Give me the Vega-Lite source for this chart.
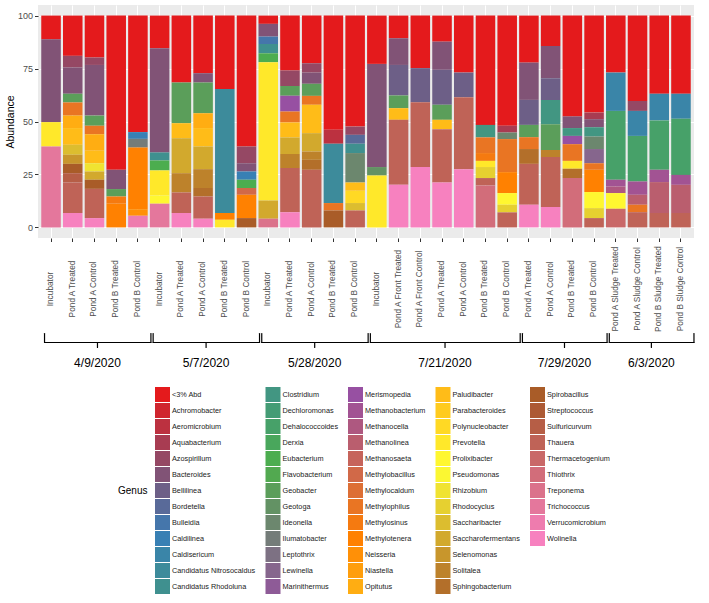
{
  "$schema": "https://vega.github.io/schema/vega-lite/v6.json",
  "background": "white",
  "padding": {"left": 5, "top": 5, "right": 5, "bottom": 5},
  "config": {
    "font": "Liberation Sans",
    "view": {"stroke": null},
    "concat": {"spacing": 0}
  },
  "datasets": {
    "abundance": [
      {"bar": "4/9/2020|Incubator", "genus": "<3% Abd", "value": 11.2},
      {"bar": "4/9/2020|Incubator", "genus": "Bacteroides", "value": 39.1},
      {"bar": "4/9/2020|Incubator", "genus": "Prevotella", "value": 11.5},
      {"bar": "4/9/2020|Incubator", "genus": "Trichococcus", "value": 38.2},

      {"bar": "4/9/2020|Pond A Treated", "genus": "<3% Abd", "value": 19.0},
      {"bar": "4/9/2020|Pond A Treated", "genus": "Azospirillum", "value": 5.5},
      {"bar": "4/9/2020|Pond A Treated", "genus": "Bacteroides", "value": 12.4},
      {"bar": "4/9/2020|Pond A Treated", "genus": "Geobacter", "value": 4.1},
      {"bar": "4/9/2020|Pond A Treated", "genus": "Methylophilus", "value": 6.2},
      {"bar": "4/9/2020|Pond A Treated", "genus": "Opitutus", "value": 5.9},
      {"bar": "4/9/2020|Pond A Treated", "genus": "Paludibacter", "value": 7.9},
      {"bar": "4/9/2020|Pond A Treated", "genus": "Saccharibacter", "value": 4.7},
      {"bar": "4/9/2020|Pond A Treated", "genus": "Selenomonas", "value": 4.3},
      {"bar": "4/9/2020|Pond A Treated", "genus": "Spirobacillus", "value": 4.4},
      {"bar": "4/9/2020|Pond A Treated", "genus": "Sulfuricurvum", "value": 4.4},
      {"bar": "4/9/2020|Pond A Treated", "genus": "Thauera", "value": 14.4},
      {"bar": "4/9/2020|Pond A Treated", "genus": "Wolinella", "value": 6.8},

      {"bar": "4/9/2020|Pond A Control", "genus": "<3% Abd", "value": 19.8},
      {"bar": "4/9/2020|Pond A Control", "genus": "Azospirillum", "value": 3.5},
      {"bar": "4/9/2020|Pond A Control", "genus": "Bacteroides", "value": 23.9},
      {"bar": "4/9/2020|Pond A Control", "genus": "Geobacter", "value": 4.8},
      {"bar": "4/9/2020|Pond A Control", "genus": "Methylophilus", "value": 4.0},
      {"bar": "4/9/2020|Pond A Control", "genus": "Opitutus", "value": 7.8},
      {"bar": "4/9/2020|Pond A Control", "genus": "Paludibacter", "value": 5.9},
      {"bar": "4/9/2020|Pond A Control", "genus": "Rhizobium", "value": 3.9},
      {"bar": "4/9/2020|Pond A Control", "genus": "Saccharofermentans", "value": 3.9},
      {"bar": "4/9/2020|Pond A Control", "genus": "Spirobacillus", "value": 4.3},
      {"bar": "4/9/2020|Pond A Control", "genus": "Thauera", "value": 13.8},
      {"bar": "4/9/2020|Pond A Control", "genus": "Wolinella", "value": 4.4},

      {"bar": "4/9/2020|Pond B Treated", "genus": "<3% Abd", "value": 72.8},
      {"bar": "4/9/2020|Pond B Treated", "genus": "Bacteroides", "value": 9.1},
      {"bar": "4/9/2020|Pond B Treated", "genus": "Geobacter", "value": 3.5},
      {"bar": "4/9/2020|Pond B Treated", "genus": "Methylosinus", "value": 3.4},
      {"bar": "4/9/2020|Pond B Treated", "genus": "Methylotenera", "value": 11.2},

      {"bar": "4/9/2020|Pond B Control", "genus": "<3% Abd", "value": 55.0},
      {"bar": "4/9/2020|Pond B Control", "genus": "Caldilinea", "value": 3.2},
      {"bar": "4/9/2020|Pond B Control", "genus": "Ilumatobacter", "value": 4.1},
      {"bar": "4/9/2020|Pond B Control", "genus": "Methylotenera", "value": 29.1},
      {"bar": "4/9/2020|Pond B Control", "genus": "Neisseria", "value": 3.1},
      {"bar": "4/9/2020|Pond B Control", "genus": "Verrucomicrobium", "value": 5.5},

      {"bar": "5/7/2020|Incubator", "genus": "<3% Abd", "value": 15.4},
      {"bar": "5/7/2020|Incubator", "genus": "Bacteroides", "value": 49.2},
      {"bar": "5/7/2020|Incubator", "genus": "Candidatus Rhodoluna", "value": 3.8},
      {"bar": "5/7/2020|Incubator", "genus": "Eubacterium", "value": 4.7},
      {"bar": "5/7/2020|Incubator", "genus": "Prevotella", "value": 11.8},
      {"bar": "5/7/2020|Incubator", "genus": "Prolixibacter", "value": 3.9},
      {"bar": "5/7/2020|Incubator", "genus": "Trichococcus", "value": 11.2},

      {"bar": "5/7/2020|Pond A Treated", "genus": "<3% Abd", "value": 31.6},
      {"bar": "5/7/2020|Pond A Treated", "genus": "Geobacter", "value": 19.2},
      {"bar": "5/7/2020|Pond A Treated", "genus": "Paludibacter", "value": 7.1},
      {"bar": "5/7/2020|Pond A Treated", "genus": "Saccharofermentans", "value": 16.5},
      {"bar": "5/7/2020|Pond A Treated", "genus": "Solitalea", "value": 9.1},
      {"bar": "5/7/2020|Pond A Treated", "genus": "Thauera", "value": 9.7},
      {"bar": "5/7/2020|Pond A Treated", "genus": "Wolinella", "value": 6.8},

      {"bar": "5/7/2020|Pond A Control", "genus": "<3% Abd", "value": 27.2},
      {"bar": "5/7/2020|Pond A Control", "genus": "Bacteroides", "value": 4.4},
      {"bar": "5/7/2020|Pond A Control", "genus": "Geobacter", "value": 14.5},
      {"bar": "5/7/2020|Pond A Control", "genus": "Opitutus", "value": 7.0},
      {"bar": "5/7/2020|Pond A Control", "genus": "Paludibacter", "value": 8.7},
      {"bar": "5/7/2020|Pond A Control", "genus": "Saccharofermentans", "value": 10.7},
      {"bar": "5/7/2020|Pond A Control", "genus": "Solitalea", "value": 8.9},
      {"bar": "5/7/2020|Pond A Control", "genus": "Sphingobacterium", "value": 4.0},
      {"bar": "5/7/2020|Pond A Control", "genus": "Thauera", "value": 10.5},
      {"bar": "5/7/2020|Pond A Control", "genus": "Wolinella", "value": 4.1},

      {"bar": "5/7/2020|Pond B Treated", "genus": "<3% Abd", "value": 34.7},
      {"bar": "5/7/2020|Pond B Treated", "genus": "Candidatus Nitrosocaldus", "value": 58.5},
      {"bar": "5/7/2020|Pond B Treated", "genus": "Methylotenera", "value": 3.2},
      {"bar": "5/7/2020|Pond B Treated", "genus": "Prevotella", "value": 3.6},

      {"bar": "5/7/2020|Pond B Control", "genus": "<3% Abd", "value": 61.8},
      {"bar": "5/7/2020|Pond B Control", "genus": "Azospirillum", "value": 7.9},
      {"bar": "5/7/2020|Pond B Control", "genus": "Bacteroides", "value": 3.9},
      {"bar": "5/7/2020|Pond B Control", "genus": "Caldilinea", "value": 3.9},
      {"bar": "5/7/2020|Pond B Control", "genus": "Eubacterium", "value": 3.9},
      {"bar": "5/7/2020|Pond B Control", "genus": "Methylobacillus", "value": 3.2},
      {"bar": "5/7/2020|Pond B Control", "genus": "Methylotenera", "value": 11.0},
      {"bar": "5/7/2020|Pond B Control", "genus": "Spirobacillus", "value": 4.4},

      {"bar": "5/28/2020|Incubator", "genus": "<3% Abd", "value": 3.9},
      {"bar": "5/28/2020|Incubator", "genus": "Bacteroides", "value": 6.0},
      {"bar": "5/28/2020|Incubator", "genus": "Bulleidia", "value": 3.5},
      {"bar": "5/28/2020|Incubator", "genus": "Candidatus Rhodoluna", "value": 4.4},
      {"bar": "5/28/2020|Incubator", "genus": "Eubacterium", "value": 4.2},
      {"bar": "5/28/2020|Incubator", "genus": "Prevotella", "value": 65.3},
      {"bar": "5/28/2020|Incubator", "genus": "Saccharofermentans", "value": 8.6},
      {"bar": "5/28/2020|Incubator", "genus": "Treponema", "value": 4.1},

      {"bar": "5/28/2020|Pond A Treated", "genus": "<3% Abd", "value": 25.9},
      {"bar": "5/28/2020|Pond A Treated", "genus": "Azospirillum", "value": 7.3},
      {"bar": "5/28/2020|Pond A Treated", "genus": "Geobacter", "value": 4.7},
      {"bar": "5/28/2020|Pond A Treated", "genus": "Merismopedia", "value": 7.4},
      {"bar": "5/28/2020|Pond A Treated", "genus": "Methylophilus", "value": 5.2},
      {"bar": "5/28/2020|Pond A Treated", "genus": "Paludibacter", "value": 7.0},
      {"bar": "5/28/2020|Pond A Treated", "genus": "Saccharofermentans", "value": 7.8},
      {"bar": "5/28/2020|Pond A Treated", "genus": "Solitalea", "value": 6.7},
      {"bar": "5/28/2020|Pond A Treated", "genus": "Thauera", "value": 20.8},
      {"bar": "5/28/2020|Pond A Treated", "genus": "Wolinella", "value": 7.2},

      {"bar": "5/28/2020|Pond A Control", "genus": "<3% Abd", "value": 22.5},
      {"bar": "5/28/2020|Pond A Control", "genus": "Azospirillum", "value": 4.4},
      {"bar": "5/28/2020|Pond A Control", "genus": "Bacteroides", "value": 5.3},
      {"bar": "5/28/2020|Pond A Control", "genus": "Geobacter", "value": 5.7},
      {"bar": "5/28/2020|Pond A Control", "genus": "Methylophilus", "value": 4.2},
      {"bar": "5/28/2020|Pond A Control", "genus": "Paludibacter", "value": 13.4},
      {"bar": "5/28/2020|Pond A Control", "genus": "Saccharofermentans", "value": 8.7},
      {"bar": "5/28/2020|Pond A Control", "genus": "Solitalea", "value": 3.9},
      {"bar": "5/28/2020|Pond A Control", "genus": "Sphingobacterium", "value": 4.7},
      {"bar": "5/28/2020|Pond A Control", "genus": "Thauera", "value": 27.2},

      {"bar": "5/28/2020|Pond B Treated", "genus": "<3% Abd", "value": 53.9},
      {"bar": "5/28/2020|Pond B Treated", "genus": "Aeromicrobium", "value": 6.6},
      {"bar": "5/28/2020|Pond B Treated", "genus": "Candidatus Nitrosocaldus", "value": 28.0},
      {"bar": "5/28/2020|Pond B Treated", "genus": "Methylophilus", "value": 3.5},
      {"bar": "5/28/2020|Pond B Treated", "genus": "Spirobacillus", "value": 8.0},

      {"bar": "5/28/2020|Pond B Control", "genus": "<3% Abd", "value": 52.4},
      {"bar": "5/28/2020|Pond B Control", "genus": "Azospirillum", "value": 3.9},
      {"bar": "5/28/2020|Pond B Control", "genus": "Bordetella", "value": 4.2},
      {"bar": "5/28/2020|Pond B Control", "genus": "Candidatus Rhodoluna", "value": 4.4},
      {"bar": "5/28/2020|Pond B Control", "genus": "Ideonella", "value": 13.9},
      {"bar": "5/28/2020|Pond B Control", "genus": "Paludibacter", "value": 3.9},
      {"bar": "5/28/2020|Pond B Control", "genus": "Polynucleobacter", "value": 5.8},
      {"bar": "5/28/2020|Pond B Control", "genus": "Saccharibacter", "value": 3.5},
      {"bar": "5/28/2020|Pond B Control", "genus": "Thauera", "value": 8.0},

      {"bar": "7/21/2020|Incubator", "genus": "<3% Abd", "value": 22.8},
      {"bar": "7/21/2020|Incubator", "genus": "Bacteroides", "value": 48.7},
      {"bar": "7/21/2020|Incubator", "genus": "Geotoga", "value": 4.0},
      {"bar": "7/21/2020|Incubator", "genus": "Prevotella", "value": 24.5},

      {"bar": "7/21/2020|Pond A Front Treated", "genus": "<3% Abd", "value": 10.7},
      {"bar": "7/21/2020|Pond A Front Treated", "genus": "Bacteroides", "value": 12.6},
      {"bar": "7/21/2020|Pond A Front Treated", "genus": "Bellilinea", "value": 14.4},
      {"bar": "7/21/2020|Pond A Front Treated", "genus": "Geobacter", "value": 6.0},
      {"bar": "7/21/2020|Pond A Front Treated", "genus": "Paludibacter", "value": 5.5},
      {"bar": "7/21/2020|Pond A Front Treated", "genus": "Thauera", "value": 30.7},
      {"bar": "7/21/2020|Pond A Front Treated", "genus": "Wolinella", "value": 20.1},

      {"bar": "7/21/2020|Pond A Front Control", "genus": "<3% Abd", "value": 24.8},
      {"bar": "7/21/2020|Pond A Front Control", "genus": "Bellilinea", "value": 16.1},
      {"bar": "7/21/2020|Pond A Front Control", "genus": "Thauera", "value": 30.6},
      {"bar": "7/21/2020|Pond A Front Control", "genus": "Wolinella", "value": 28.5},

      {"bar": "7/21/2020|Pond A Treated", "genus": "<3% Abd", "value": 12.3},
      {"bar": "7/21/2020|Pond A Treated", "genus": "Bacteroides", "value": 13.3},
      {"bar": "7/21/2020|Pond A Treated", "genus": "Bellilinea", "value": 16.5},
      {"bar": "7/21/2020|Pond A Treated", "genus": "Geobacter", "value": 7.1},
      {"bar": "7/21/2020|Pond A Treated", "genus": "Paludibacter", "value": 4.4},
      {"bar": "7/21/2020|Pond A Treated", "genus": "Thauera", "value": 25.2},
      {"bar": "7/21/2020|Pond A Treated", "genus": "Wolinella", "value": 21.2},

      {"bar": "7/21/2020|Pond A Control", "genus": "<3% Abd", "value": 26.9},
      {"bar": "7/21/2020|Pond A Control", "genus": "Bellilinea", "value": 11.6},
      {"bar": "7/21/2020|Pond A Control", "genus": "Thauera", "value": 34.0},
      {"bar": "7/21/2020|Pond A Control", "genus": "Wolinella", "value": 27.5},

      {"bar": "7/21/2020|Pond B Treated", "genus": "<3% Abd", "value": 51.6},
      {"bar": "7/21/2020|Pond B Treated", "genus": "Clostridium", "value": 5.9},
      {"bar": "7/21/2020|Pond B Treated", "genus": "Methylophilus", "value": 7.4},
      {"bar": "7/21/2020|Pond B Treated", "genus": "Methylosinus", "value": 3.7},
      {"bar": "7/21/2020|Pond B Treated", "genus": "Prevotella", "value": 2.9},
      {"bar": "7/21/2020|Pond B Treated", "genus": "Rhodocyclus", "value": 5.2},
      {"bar": "7/21/2020|Pond B Treated", "genus": "Thauera", "value": 3.5},
      {"bar": "7/21/2020|Pond B Treated", "genus": "Thiothrix", "value": 19.8},

      {"bar": "7/21/2020|Pond B Control", "genus": "<3% Abd", "value": 52.0},
      {"bar": "7/21/2020|Pond B Control", "genus": "Aquabacterium", "value": 3.2},
      {"bar": "7/21/2020|Pond B Control", "genus": "Ideonella", "value": 3.1},
      {"bar": "7/21/2020|Pond B Control", "genus": "Methylophilus", "value": 15.6},
      {"bar": "7/21/2020|Pond B Control", "genus": "Methylotenera", "value": 9.9},
      {"bar": "7/21/2020|Pond B Control", "genus": "Prolixibacter", "value": 5.5},
      {"bar": "7/21/2020|Pond B Control", "genus": "Rhodocyclus", "value": 3.6},
      {"bar": "7/21/2020|Pond B Control", "genus": "Thauera", "value": 7.1},

      {"bar": "7/29/2020|Pond A Treated", "genus": "<3% Abd", "value": 22.2},
      {"bar": "7/29/2020|Pond A Treated", "genus": "Bacteroides", "value": 17.6},
      {"bar": "7/29/2020|Pond A Treated", "genus": "Bellilinea", "value": 11.8},
      {"bar": "7/29/2020|Pond A Treated", "genus": "Geobacter", "value": 5.8},
      {"bar": "7/29/2020|Pond A Treated", "genus": "Methylophilus", "value": 5.6},
      {"bar": "7/29/2020|Pond A Treated", "genus": "Sphingobacterium", "value": 7.0},
      {"bar": "7/29/2020|Pond A Treated", "genus": "Thauera", "value": 19.3},
      {"bar": "7/29/2020|Pond A Treated", "genus": "Wolinella", "value": 10.7},

      {"bar": "7/29/2020|Pond A Control", "genus": "<3% Abd", "value": 14.3},
      {"bar": "7/29/2020|Pond A Control", "genus": "Bacteroides", "value": 15.3},
      {"bar": "7/29/2020|Pond A Control", "genus": "Bellilinea", "value": 10.2},
      {"bar": "7/29/2020|Pond A Control", "genus": "Clostridium", "value": 11.5},
      {"bar": "7/29/2020|Pond A Control", "genus": "Geobacter", "value": 12.1},
      {"bar": "7/29/2020|Pond A Control", "genus": "Solitalea", "value": 3.4},
      {"bar": "7/29/2020|Pond A Control", "genus": "Thauera", "value": 23.6},
      {"bar": "7/29/2020|Pond A Control", "genus": "Wolinella", "value": 9.6},

      {"bar": "7/29/2020|Pond B Treated", "genus": "<3% Abd", "value": 47.6},
      {"bar": "7/29/2020|Pond B Treated", "genus": "Bacteroides", "value": 5.5},
      {"bar": "7/29/2020|Pond B Treated", "genus": "Clostridium", "value": 3.7},
      {"bar": "7/29/2020|Pond B Treated", "genus": "Merismopedia", "value": 3.9},
      {"bar": "7/29/2020|Pond B Treated", "genus": "Methylophilus", "value": 7.9},
      {"bar": "7/29/2020|Pond B Treated", "genus": "Prevotella", "value": 3.7},
      {"bar": "7/29/2020|Pond B Treated", "genus": "Sphingobacterium", "value": 4.4},
      {"bar": "7/29/2020|Pond B Treated", "genus": "Thiothrix", "value": 23.3},

      {"bar": "7/29/2020|Pond B Control", "genus": "<3% Abd", "value": 45.8},
      {"bar": "7/29/2020|Pond B Control", "genus": "Aquabacterium", "value": 3.1},
      {"bar": "7/29/2020|Pond B Control", "genus": "Bacteroides", "value": 3.8},
      {"bar": "7/29/2020|Pond B Control", "genus": "Clostridium", "value": 4.4},
      {"bar": "7/29/2020|Pond B Control", "genus": "Ideonella", "value": 5.9},
      {"bar": "7/29/2020|Pond B Control", "genus": "Lewinella", "value": 6.7},
      {"bar": "7/29/2020|Pond B Control", "genus": "Methylophilus", "value": 3.1},
      {"bar": "7/29/2020|Pond B Control", "genus": "Methylotenera", "value": 10.5},
      {"bar": "7/29/2020|Pond B Control", "genus": "Prolixibacter", "value": 7.6},
      {"bar": "7/29/2020|Pond B Control", "genus": "Rhodocyclus", "value": 4.7},
      {"bar": "7/29/2020|Pond B Control", "genus": "Thauera", "value": 4.4},

      {"bar": "6/3/2020|Pond A Sludge Treated", "genus": "<3% Abd", "value": 26.9},
      {"bar": "6/3/2020|Pond A Sludge Treated", "genus": "Caldisericum", "value": 18.1},
      {"bar": "6/3/2020|Pond A Sludge Treated", "genus": "Dehalococcoides", "value": 32.5},
      {"bar": "6/3/2020|Pond A Sludge Treated", "genus": "Methanobacterium", "value": 3.2},
      {"bar": "6/3/2020|Pond A Sludge Treated", "genus": "Methanocella", "value": 3.1},
      {"bar": "6/3/2020|Pond A Sludge Treated", "genus": "Prolixibacter", "value": 7.4},
      {"bar": "6/3/2020|Pond A Sludge Treated", "genus": "Thermacetogenium", "value": 8.8},

      {"bar": "6/3/2020|Pond A Sludge Control", "genus": "<3% Abd", "value": 40.3},
      {"bar": "6/3/2020|Pond A Sludge Control", "genus": "Azospirillum", "value": 4.7},
      {"bar": "6/3/2020|Pond A Sludge Control", "genus": "Caldisericum", "value": 11.8},
      {"bar": "6/3/2020|Pond A Sludge Control", "genus": "Dehalococcoides", "value": 21.5},
      {"bar": "6/3/2020|Pond A Sludge Control", "genus": "Methanobacterium", "value": 6.3},
      {"bar": "6/3/2020|Pond A Sludge Control", "genus": "Methanolinea", "value": 4.7},
      {"bar": "6/3/2020|Pond A Sludge Control", "genus": "Methylophilus", "value": 3.5},
      {"bar": "6/3/2020|Pond A Sludge Control", "genus": "Thauera", "value": 7.2},

      {"bar": "6/3/2020|Pond B Sludge Treated", "genus": "<3% Abd", "value": 36.9},
      {"bar": "6/3/2020|Pond B Sludge Treated", "genus": "Caldisericum", "value": 12.6},
      {"bar": "6/3/2020|Pond B Sludge Treated", "genus": "Dehalococcoides", "value": 23.3},
      {"bar": "6/3/2020|Pond B Sludge Treated", "genus": "Methanobacterium", "value": 5.8},
      {"bar": "6/3/2020|Pond B Sludge Treated", "genus": "Methanolinea", "value": 14.6},
      {"bar": "6/3/2020|Pond B Sludge Treated", "genus": "Thauera", "value": 6.8},

      {"bar": "6/3/2020|Pond B Sludge Control", "genus": "<3% Abd", "value": 36.9},
      {"bar": "6/3/2020|Pond B Sludge Control", "genus": "Caldisericum", "value": 11.8},
      {"bar": "6/3/2020|Pond B Sludge Control", "genus": "Dehalococcoides", "value": 26.5},
      {"bar": "6/3/2020|Pond B Sludge Control", "genus": "Methanobacterium", "value": 4.7},
      {"bar": "6/3/2020|Pond B Sludge Control", "genus": "Methanolinea", "value": 13.3},
      {"bar": "6/3/2020|Pond B Sludge Control", "genus": "Thauera", "value": 6.8}
    ],
    "sampling_dates": [
      {"date": "4/9/2020", "first": 0, "last": 4, "mid": 2},
      {"date": "5/7/2020", "first": 5, "last": 9, "mid": 7},
      {"date": "5/28/2020", "first": 10, "last": 14, "mid": 12},
      {"date": "7/21/2020", "first": 15, "last": 21, "mid": 18},
      {"date": "7/29/2020", "first": 22, "last": 25, "mid": 23.5},
      {"date": "6/3/2020", "first": 26, "last": 29, "mid": 27.5}
    ]
  },
  "vconcat": [
    {
      "width": 656,
      "height": 233,
      "view": {"fill": "#EBEBEB", "stroke": null},
      "data": {"name": "abundance"},
      "mark": {"type": "bar"},
      "encoding": {
        "x": {
          "field": "bar",
          "type": "nominal",
          "sort": null,
          "scale": {"paddingInner": 0.1, "paddingOuter": 0.15},
          "axis": {
            "title": null,
            "labelExpr": "split(datum.label, '|')[1]",
            "labelAngle": 270,
            "labelAlign": "center",
            "labelBaseline": "middle",
            "labelPadding": 47,
            "labelFontSize": 8.3,
            "labelColor": "#4D4D4D",
            "labelOverlap": false,
            "labelLimit": 0,
            "domain": false,
            "ticks": true,
            "tickSize": 3.5,
            "tickColor": "#333333",
            "grid": true,
            "gridColor": "#FFFFFF",
            "gridWidth": 1
          }
        },
        "y": {
          "field": "value",
          "type": "quantitative",
          "stack": "zero",
          "scale": {"domain": [-5, 105], "nice": false, "zero": false},
          "axis": {
            "title": "Abundance",
            "titleFontSize": 10.5,
            "titleFontWeight": "normal",
            "titleColor": "#000000",
            "titlePadding": 2,
            "values": [0, 25, 50, 75, 100],
            "labelFontSize": 9,
            "labelColor": "#4D4D4D",
            "labelPadding": 2,
            "domain": false,
            "tickSize": 3.5,
            "tickColor": "#333333",
            "gridColor": "#FFFFFF",
            "gridWidth": 1
          }
        },
        "color": {
          "field": "genus",
          "type": "nominal",
          "title": "Genus",
          "scale": {
            "domain": [
              "<3% Abd", "Achromobacter", "Aeromicrobium", "Aquabacterium", "Azospirillum",
              "Bacteroides", "Bellilinea", "Bordetella", "Bulleidia", "Caldilinea",
              "Caldisericum", "Candidatus Nitrosocaldus", "Candidatus Rhodoluna",
              "Clostridium", "Dechloromonas", "Dehalococcoides", "Derxia", "Eubacterium",
              "Flavobacterium", "Geobacter", "Geotoga", "Ideonella", "Ilumatobacter",
              "Leptothrix", "Lewinella", "Marinithermus",
              "Merismopedia", "Methanobacterium", "Methanocella", "Methanolinea", "Methanosaeta",
              "Methylobacillus", "Methylocaldum", "Methylophilus", "Methylosinus", "Methylotenera",
              "Neisseria", "Niastella", "Opitutus",
              "Paludibacter", "Parabacteroides", "Polynucleobacter", "Prevotella", "Prolixibacter",
              "Pseudomonas", "Rhizobium", "Rhodocyclus", "Saccharibacter", "Saccharofermentans",
              "Selenomonas", "Solitalea", "Sphingobacterium",
              "Spirobacillus", "Streptococcus", "Sulfuricurvum", "Thauera", "Thermacetogenium",
              "Thiothrix", "Treponema", "Trichococcus", "Verrucomicrobium", "Wolinella",
              " ", "  ", "   "
            ],
            "range": [
              "#E41A1C", "#D0252E", "#BC3140", "#A83C52", "#954864",
              "#815376", "#6D5F87", "#596A99", "#4576AB", "#3880B4",
              "#3A85A8", "#3D8B9B", "#3F908F",
              "#429682", "#449C75", "#47A169", "#49A75C", "#4CAD4F",
              "#52A950", "#5B9E5A", "#639264", "#6C876E", "#747C79",
              "#7D7183", "#86668D", "#8E5B97",
              "#9750A2", "#A25393", "#AE5880", "#BA5E6E", "#C6645B",
              "#D16948", "#DD6F35", "#E97523", "#F57A10", "#FF8101",
              "#FF9007", "#FF9E0D", "#FFAD12",
              "#FFBC18", "#FFCB1E", "#FFD924", "#FFE82A", "#FFF730",
              "#FBF732", "#F0E331", "#E6D030", "#DCBD2F", "#D2A92D",
              "#C8962C", "#BD822B", "#B36F2A",
              "#A95C28", "#AD5A34", "#B65E46", "#BF6357", "#C96868",
              "#D26D7A", "#DB728B", "#E4779C", "#EE7CAE", "#F781BF",
              "#FFFFFF", "#FFFFFF", "#FFFFFF"
            ]
          },
          "legend": {
            "orient": "none",
            "legendX": 80,
            "legendY": 382,
            "columns": 5,
            "symbolLimit": 0,
            "gridAlign": "each",
            "columnPadding": 9.5,
            "rowPadding": 1,
            "symbolType": "square",
            "symbolSize": 225,
            "symbolStrokeWidth": 0,
            "symbolOpacity": 1,
            "labelFontSize": 7.3,
            "labelColor": "#222222",
            "labelOffset": 2,
            "labelLimit": 0,
            "title": "Genus",
            "titleOrient": "left",
            "titleAnchor": "middle",
            "titleAngle": 0,
            "titleBaseline": "middle",
            "titleFontSize": 10,
            "titleFontWeight": "normal",
            "titleColor": "#000000",
            "titlePadding": 7
          }
        },
        "order": {"field": "genus", "sort": "descending"}
      }
    },
    {
      "width": 656,
      "height": 40,
      "data": {"name": "sampling_dates"},
      "encoding": {
        "y": {"datum": 29.5, "type": "quantitative", "scale": {"domain": [0, 40], "nice": false, "zero": false}, "axis": null}
      },
      "layer": [
        {
          "mark": {"type": "rule", "color": "#000000", "strokeWidth": 1.2, "strokeCap": "round", "xOffset": -6.5, "x2Offset": 13},
          "encoding": {
            "x": {"field": "first", "type": "quantitative", "scale": {"domain": [-0.6, 29.6], "nice": false, "zero": false}, "axis": null},
            "x2": {"field": "last"}
          }
        },
        {
          "mark": {"type": "rule", "color": "#000000", "strokeWidth": 1.2, "strokeCap": "round", "xOffset": -6.5},
          "encoding": {
            "x": {"field": "first", "type": "quantitative"},
            "y2": {"datum": 38.5}
          }
        },
        {
          "mark": {"type": "rule", "color": "#000000", "strokeWidth": 1.2, "strokeCap": "round", "xOffset": 13},
          "encoding": {
            "x": {"field": "last", "type": "quantitative"},
            "y2": {"datum": 38.5}
          }
        },
        {
          "mark": {"type": "rule", "color": "#000000", "strokeWidth": 1.2, "strokeCap": "round", "xOffset": 3},
          "encoding": {
            "x": {"field": "mid", "type": "quantitative"},
            "y2": {"datum": 24.5}
          }
        },
        {
          "mark": {"type": "text", "fontSize": 12, "color": "#000000", "baseline": "middle", "align": "center", "xOffset": 3},
          "encoding": {
            "x": {"field": "mid", "type": "quantitative"},
            "y": {"datum": 9.5, "type": "quantitative"},
            "text": {"field": "date"}
          }
        }
      ]
    }
  ]
}
